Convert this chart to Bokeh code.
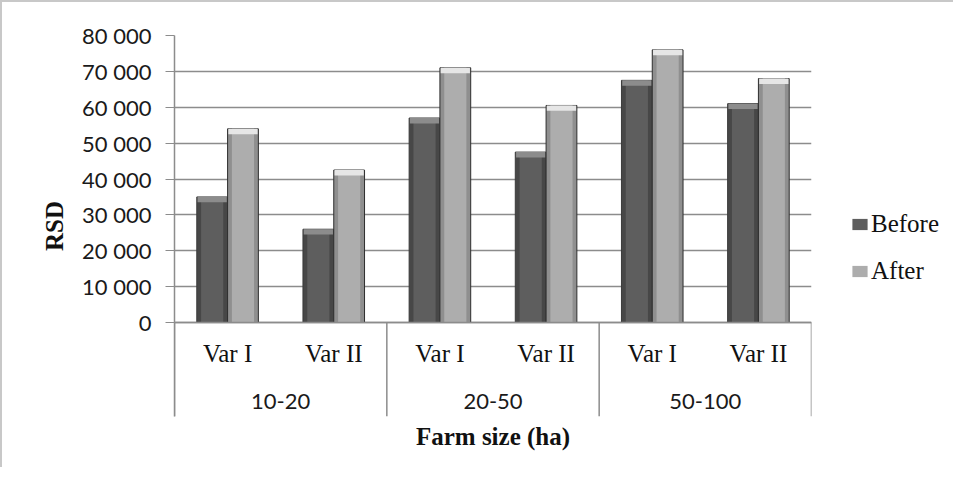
from bokeh.plotting import figure
from bokeh.layouts import row
from bokeh.models import (FactorRange, FixedTicker, Legend, LegendItem, ColumnDataSource, Title,
                          CategoricalAxis, Range1d)
from bokeh.transform import dodge
from bokeh.embed import file_html
from bokeh.resources import INLINE

groups = ["10-20", "20-50", "50-100"]
variants = ["Var I", "Var II"]
series = ["Before", "After"]
before = [35000, 26000, 57000, 47500, 67500, 61000]
after = [54000, 42500, 71000, 60500, 76000, 68000]
y_ticks = [0, 10000, 20000, 30000, 40000, 50000, 60000, 70000, 80000]
y_tick_labels = ["0", "10 000", "20 000", "30 000", "40 000", "50 000", "60 000", "70 000", "80 000"]

Y_MIN = -26200  # room below zero for the category table
Y_MAX = 80000

BEFORE_EDGE, BEFORE_MID, BEFORE_CAP = "#474747", "#5e5e5e", "#8c8c8c"
AFTER_EDGE, AFTER_MID, AFTER_CAP = "#8f8f8f", "#adadad", "#e6e6e6"

factors = [(g, v) for g in groups for v in variants]
src = ColumnDataSource(dict(x=factors, before=before, after=after,
                            before_cap=[b - 1500 for b in before],
                            after_cap=[a - 1500 for a in after]))

p = figure(x_range=FactorRange(*factors, factor_padding=0, group_padding=0, range_padding=0),
           y_range=(Y_MIN, Y_MAX), width=815, height=465,
           output_backend="svg", toolbar_location=None,
           min_border_left=172, min_border_right=6, min_border_top=33, min_border_bottom=51)
p.outline_line_color = None
p.background_fill_color = "white"
p.border_fill_color = "white"
p.extra_x_ranges = {"groups": FactorRange(*groups, range_padding=0)}

BW = 0.29
off_b = -BW / 2
off_a = BW / 2

# Before bars
p.vbar(x=dodge("x", off_b, range=p.x_range), top="before", bottom=0, width=BW, source=src,
       fill_color=BEFORE_EDGE, line_color="#3a3a3a", line_width=1)
p.vbar(x=dodge("x", off_b, range=p.x_range), top="before", bottom=0, width=BW * 0.72, source=src,
       fill_color=BEFORE_MID, line_color=None)
p.vbar(x=dodge("x", off_b, range=p.x_range), top="before", bottom="before_cap", width=BW * 0.95, source=src,
       fill_color=BEFORE_CAP, line_color=None)
# After bars
p.vbar(x=dodge("x", off_a, range=p.x_range), top="after", bottom=0, width=BW, source=src,
       fill_color=AFTER_EDGE, line_color="#2e2e2e", line_width=1)
p.vbar(x=dodge("x", off_a, range=p.x_range), top="after", bottom=0, width=BW * 0.72, source=src,
       fill_color=AFTER_MID, line_color=None)
p.vbar(x=dodge("x", off_a, range=p.x_range), top="after", bottom="after_cap", width=BW * 0.95, source=src,
       fill_color=AFTER_CAP, line_color=None)

# category table separators (group boundaries)
sep_left = ColumnDataSource(dict(f=[(g, variants[0]) for g in groups], y0=[0] * 3, y1=[Y_MIN] * 3))
sep_right = ColumnDataSource(dict(f=[(groups[-1], variants[-1])], y0=[0], y1=[Y_MIN]))
p.segment(x0=dodge("f", -0.5, range=p.x_range), x1=dodge("f", -0.5, range=p.x_range),
          y0="y0", y1="y1", source=sep_left, line_color="#8c8c8c", line_width=1.5)
p.segment(x0=dodge("f", 0.5, range=p.x_range), x1=dodge("f", 0.5, range=p.x_range),
          y0="y0", y1="y1", source=sep_right, line_color="#8c8c8c", line_width=1.5)

# grid
p.xgrid.grid_line_color = None
p.ygrid.grid_line_color = "#8c8c8c"
p.ygrid.grid_line_width = 1.5
p.ygrid.ticker = FixedTicker(ticks=y_ticks)

# y axis
yax = p.yaxis[0]
yax.ticker = FixedTicker(ticks=y_ticks)
yax.major_label_overrides = {t: l for t, l in zip(y_ticks, y_tick_labels)}
yax.major_tick_out = 9
yax.major_tick_in = 0
yax.minor_tick_line_color = None
yax.axis_line_color = "#8c8c8c"
yax.axis_line_width = 1.5
yax.major_tick_line_color = "#8c8c8c"
yax.major_label_text_font = "Lato"
yax.major_label_text_font_size = "22px"
yax.major_label_text_color = "#1a1a1a"
yax.major_label_standoff = 14
yax.axis_label = "RSD"
yax.axis_label_text_font = "Liberation Serif"
yax.axis_label_text_font_style = "bold"
yax.axis_label_text_font_size = "25px"
yax.axis_label_text_color = "#111111"
yax.axis_label_standoff = 11

# x axis (variants), drawn at y = 0
xax = p.xaxis[0]
xax.fixed_location = 0
xax.axis_line_color = "#8c8c8c"
xax.axis_line_width = 1.5
xax.major_tick_line_color = None
xax.minor_tick_line_color = None
xax.major_label_text_font = "Liberation Serif"
xax.major_label_text_font_size = "25px"
xax.major_label_text_color = "#111111"
xax.major_label_standoff = 11
xax.group_text_color = None
xax.separator_line_color = None

# x axis (farm-size groups)
gax = CategoricalAxis(x_range_name="groups", fixed_location=0)
gax.axis_line_color = None
gax.major_tick_line_color = None
gax.minor_tick_line_color = None
gax.major_label_text_font = "Lato"
gax.major_label_text_font_size = "22px"
gax.major_label_text_color = "#1a1a1a"
gax.major_label_standoff = 65
p.add_layout(gax, "below")

p.add_layout(Title(text="Farm size (ha)", align="center", text_font="Liberation Serif",
                   text_font_style="bold", text_font_size="25px", text_color="#111111",
                   standoff=8), "below")

# legend panel (keys only; its bars have no width and lie outside its view)
q = figure(x_range=FactorRange(*factors), y_range=Range1d(Y_MAX * 2, Y_MAX * 3),
           x_axis_type=None, y_axis_type=None,
           width=136, height=465, output_backend="svg", toolbar_location=None,
           min_border_left=0, min_border_right=0, min_border_top=0, min_border_bottom=0)
q.grid.grid_line_color = None
q.outline_line_color = None
rb = q.vbar(x="x", top="before", bottom="before", width=0, source=src, fill_color=BEFORE_MID,
            line_color=None)
ra = q.vbar(x="x", top="after", bottom="after", width=0, source=src, fill_color=AFTER_MID,
            line_color=None)
legend = Legend(items=[LegendItem(label=series[0], renderers=[rb]),
                       LegendItem(label=series[1], renderers=[ra])],
                location=(33, 131), orientation="vertical")
legend.border_line_color = None
legend.background_fill_alpha = 0
legend.label_text_font = "Liberation Serif"
legend.label_text_font_size = "25px"
legend.label_text_color = "#111111"
legend.glyph_width = 19
legend.glyph_height = 14
legend.label_height = 25
legend.label_standoff = 2
legend.spacing = 19
legend.padding = 0
legend.margin = 0
q.add_layout(legend, "center")

layout = row(p, q, styles={"border-top": "2px solid #c8c8c8", "border-left": "2px solid #c8c8c8"})

open("out.html", "w").write(file_html(layout, INLINE))
